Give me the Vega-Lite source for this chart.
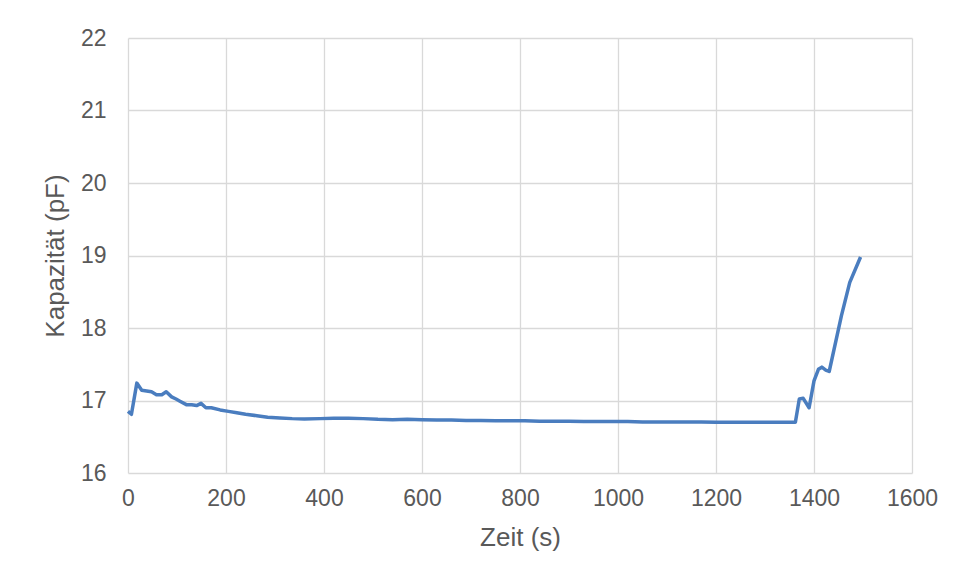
{
  "$schema": "https://vega.github.io/schema/vega-lite/v6.json",
  "width": 784,
  "height": 435,
  "autosize": {"type": "none"},
  "padding": {"left": 128, "top": 38, "right": 43, "bottom": 105},
  "background": "white",
  "config": {
    "view": {"stroke": null},
    "font": "Liberation Sans",
    "axis": {
      "gridColor": "#d9d9d9",
      "gridWidth": 1.3,
      "domain": false,
      "ticks": false,
      "labelColor": "#595959",
      "titleColor": "#595959",
      "labelFontSize": 23,
      "titleFontSize": 26,
      "titleFontWeight": "normal",
      "labelFont": "Liberation Sans",
      "titleFont": "Liberation Sans",
      "labelFlush": false,
      "labelOverlap": false
    }
  },
  "data": {
    "values": [
      {"t": 0, "c": 16.85}, {"t": 7, "c": 16.81}, {"t": 18, "c": 17.24}, {"t": 28, "c": 17.14},
      {"t": 38, "c": 17.13}, {"t": 48, "c": 17.12}, {"t": 58, "c": 17.08}, {"t": 69, "c": 17.08},
      {"t": 78, "c": 17.12}, {"t": 89, "c": 17.05}, {"t": 98, "c": 17.02}, {"t": 106, "c": 16.99},
      {"t": 120, "c": 16.94}, {"t": 130, "c": 16.94}, {"t": 140, "c": 16.93}, {"t": 149, "c": 16.96},
      {"t": 159, "c": 16.90}, {"t": 170, "c": 16.90}, {"t": 188, "c": 16.87}, {"t": 205, "c": 16.85},
      {"t": 222, "c": 16.83}, {"t": 240, "c": 16.81}, {"t": 263, "c": 16.79}, {"t": 285, "c": 16.77},
      {"t": 310, "c": 16.76}, {"t": 335, "c": 16.75}, {"t": 360, "c": 16.745}, {"t": 392, "c": 16.75},
      {"t": 420, "c": 16.755}, {"t": 450, "c": 16.755}, {"t": 480, "c": 16.75}, {"t": 510, "c": 16.74},
      {"t": 540, "c": 16.735}, {"t": 570, "c": 16.74}, {"t": 600, "c": 16.735}, {"t": 630, "c": 16.73},
      {"t": 660, "c": 16.73}, {"t": 690, "c": 16.725}, {"t": 720, "c": 16.725}, {"t": 750, "c": 16.72},
      {"t": 780, "c": 16.72}, {"t": 810, "c": 16.72}, {"t": 840, "c": 16.715}, {"t": 870, "c": 16.715},
      {"t": 900, "c": 16.715}, {"t": 930, "c": 16.71}, {"t": 960, "c": 16.71}, {"t": 990, "c": 16.71},
      {"t": 1020, "c": 16.71}, {"t": 1050, "c": 16.705}, {"t": 1080, "c": 16.705}, {"t": 1110, "c": 16.705},
      {"t": 1140, "c": 16.705}, {"t": 1170, "c": 16.705}, {"t": 1200, "c": 16.70}, {"t": 1230, "c": 16.70},
      {"t": 1260, "c": 16.70}, {"t": 1290, "c": 16.70}, {"t": 1320, "c": 16.70}, {"t": 1345, "c": 16.70},
      {"t": 1362, "c": 16.70}, {"t": 1370, "c": 17.02}, {"t": 1378, "c": 17.03}, {"t": 1390, "c": 16.90},
      {"t": 1400, "c": 17.27}, {"t": 1409, "c": 17.43}, {"t": 1416, "c": 17.46}, {"t": 1424, "c": 17.42},
      {"t": 1431, "c": 17.40}, {"t": 1456, "c": 18.17}, {"t": 1473, "c": 18.63}, {"t": 1495, "c": 18.98}
    ]
  },
  "mark": {"type": "line", "color": "#4a7dbf", "strokeWidth": 3.5, "strokeJoin": "round"},
  "encoding": {
    "x": {
      "field": "t", "type": "quantitative",
      "scale": {"domain": [0, 1600], "nice": false},
      "axis": {"values": [0, 200, 400, 600, 800, 1000, 1200, 1400, 1600], "format": "d", "title": "Zeit (s)", "labelPadding": 14, "titlePadding": 14, "grid": true}
    },
    "y": {
      "field": "c", "type": "quantitative",
      "scale": {"domain": [16, 22], "nice": false, "zero": false},
      "axis": {"values": [16, 17, 18, 19, 20, 21, 22], "format": "d", "title": "Kapazität (pF)", "labelPadding": 22, "titlePadding": 12, "grid": true}
    }
  }
}
